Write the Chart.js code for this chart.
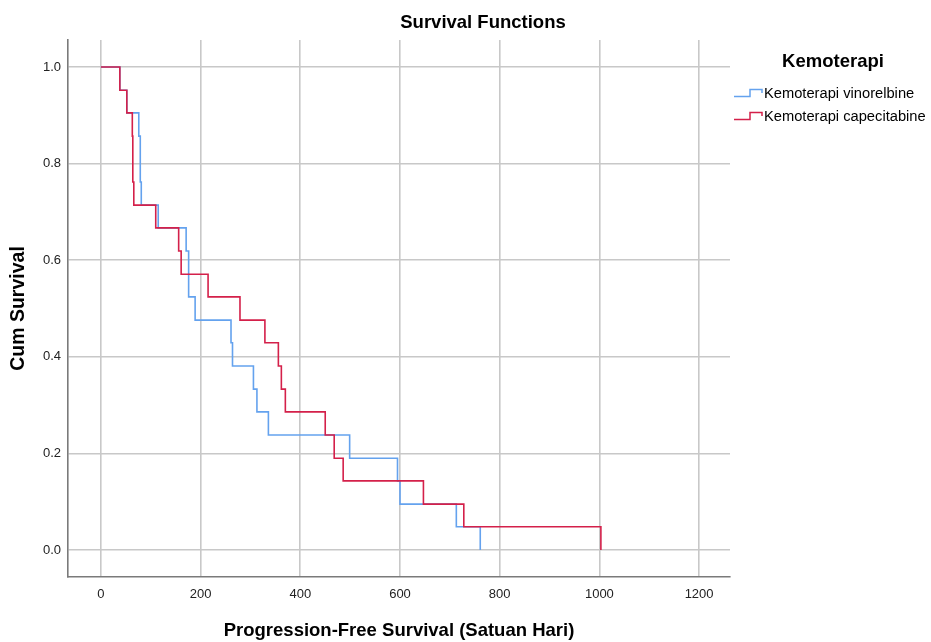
<!DOCTYPE html>
<html>
<head>
<meta charset="utf-8">
<script src="https://cdn.jsdelivr.net/npm/chart.js@4.4.1/dist/chart.umd.min.js"></script>
<style>
  html, body { margin: 0; padding: 0; background: #ffffff; }
  #wrap { width: 931px; height: 642px; position: relative; }
</style>
</head>
<body>
<div id="wrap"><canvas id="c" width="931" height="642"></canvas></div>
<script>
// ---- data ----
const chartTitle = 'Survival Functions';
const xTitle = 'Progression-Free Survival (Satuan Hari)';
const yTitle = 'Cum Survival';
const legendTitle = 'Kemoterapi';
const seriesNames = ['Kemoterapi vinorelbine', 'Kemoterapi capecitabine'];

const vinoTime = [0, 38, 52, 76, 79, 79, 81, 115, 171, 176, 176, 189, 261, 264, 306, 313, 336, 499, 595, 600, 713, 761];
const vinoSurv = [1, 0.952, 0.905, 0.857, 0.810, 0.762, 0.714, 0.667, 0.619, 0.571, 0.524, 0.476, 0.429, 0.381, 0.333, 0.286, 0.238, 0.190, 0.143, 0.095, 0.048, 0];

const capeTime = [0, 38, 52, 63, 64, 64, 66, 110, 156, 161, 215, 279, 329, 356, 362, 370, 450, 468, 486, 647, 728, 1003];
const capeSurv = [1, 0.952, 0.905, 0.857, 0.810, 0.762, 0.714, 0.667, 0.619, 0.571, 0.524, 0.476, 0.429, 0.381, 0.333, 0.286, 0.238, 0.190, 0.143, 0.095, 0.048, 0];

const xTicks = [0, 200, 400, 600, 800, 1000, 1200];
const yTicks = [0.0, 0.2, 0.4, 0.6, 0.8, 1.0];

// ---- styles ----
const blue = '#64a2ee';
const red = '#d4204a';
const FONT = "'Liberation Sans', Arial, sans-serif";

function toPts(t, s) { return t.map((v, i) => ({ x: v, y: s[i] })); }

const overlay = {
  id: 'overlay',
  afterDraw(chart) {
    const ctx = chart.ctx;
    ctx.save();
    ctx.fillStyle = '#000';
    ctx.textAlign = 'center';
    ctx.textBaseline = 'middle';
    ctx.font = "bold 18.5px " + FONT;
    ctx.fillText(chartTitle, 483, 23);
    // legend
    ctx.fillText(legendTitle, 833, 62);
    ctx.textAlign = 'left';
    ctx.font = "14.7px " + FONT;
    const colors = [blue, red];
    const ys = [93, 116];
    for (let i = 0; i < 2; i++) {
      const y = ys[i];
      ctx.strokeStyle = colors[i];
      ctx.lineWidth = 1.5;
      ctx.beginPath();
      ctx.moveTo(734, y + 3.5);
      ctx.lineTo(750, y + 3.5);
      ctx.lineTo(750, y - 3.5);
      ctx.lineTo(762, y - 3.5);
      ctx.lineTo(762, y);
      ctx.stroke();
      ctx.fillStyle = '#000';
      ctx.fillText(seriesNames[i], 764, y + 1);
    }
    ctx.restore();
  }
};

new Chart(document.getElementById('c'), {
  type: 'line',
  data: {
    datasets: [
      { label: seriesNames[0], data: toPts(vinoTime, vinoSurv), borderColor: blue, borderWidth: 1.6, stepped: 'before', pointRadius: 0, fill: false, order: 1 },
      { label: seriesNames[1], data: toPts(capeTime, capeSurv), borderColor: red, borderWidth: 1.6, stepped: 'before', pointRadius: 0, fill: false, order: 0 }
    ]
  },
  options: {
    responsive: false,
    animation: false,
    layout: { padding: { left: 0, top: 40, right: 201, bottom: 0 } },
    plugins: { legend: { display: false }, title: { display: false }, tooltip: { enabled: false } },
    scales: {
      x: {
        type: 'linear',
        min: -66, max: 1262,
        afterFit(s) { s.height = 65; },
        afterBuildTicks(s) { s.ticks = xTicks.map(v => ({ value: v })); },
        grid: { color: '#c8c8c8', lineWidth: 1.6, drawTicks: false },
        border: { color: '#7a7a7a', width: 1.6 },
        ticks: { padding: 10, color: '#222', font: { family: FONT, size: 13 }, callback: v => String(v) },
        title: { display: true, text: xTitle, color: '#000', font: { family: FONT, size: 18.5, weight: 'bold' }, padding: { top: 20, bottom: 0 } }
      },
      y: {
        type: 'linear',
        min: -0.056, max: 1.056,
        afterFit(s) { s.width = 68; },
        afterBuildTicks(s) { s.ticks = yTicks.map(v => ({ value: v })); },
        grid: { color: '#c8c8c8', lineWidth: 1.6, drawTicks: false },
        border: { color: '#7a7a7a', width: 1.6 },
        ticks: { padding: 7, color: '#222', font: { family: FONT, size: 13 }, callback: v => v.toFixed(1) },
        title: { display: true, text: yTitle, color: '#000', font: { family: FONT, size: 19.5, weight: 'bold' }, padding: { top: 7, bottom: 0 } }
      }
    }
  },
  plugins: [overlay]
});
</script>
</body>
</html>
